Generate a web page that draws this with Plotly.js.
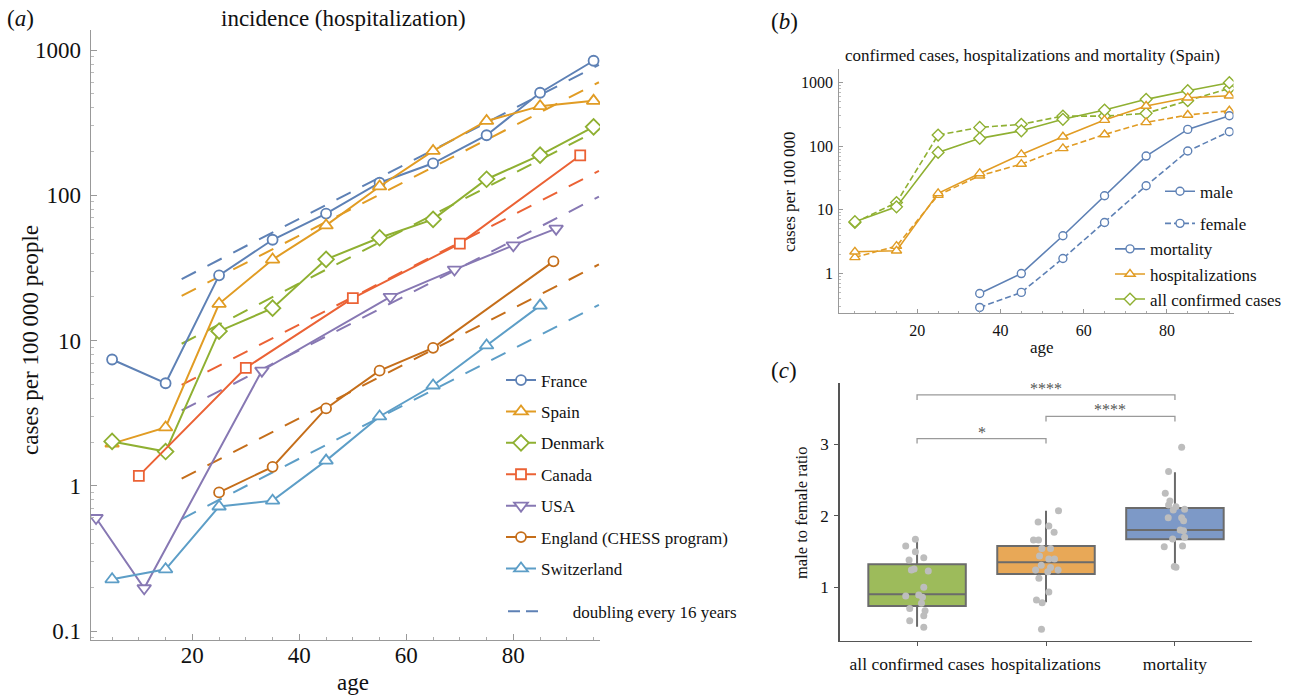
<!DOCTYPE html>
<html>
<head>
<meta charset="utf-8">
<script src="https://cdn.plot.ly/plotly-3.0.1.min.js"></script>
<style>
html,body{margin:0;padding:0;background:#fff;}
#chart{width:1296px;height:695px;}
</style>
</head>
<body>
<div id="chart"></div>
<script>
// ---------------- Panel (a): incidence (hospitalization) ----------------
const franceAge = [5, 15, 25, 35, 45, 55, 65, 75, 85, 95];
const franceVal = [7.4, 5.08, 28.1, 49.4, 74.8, 122, 166, 259, 508, 844];
const spainAge = [5, 15, 25, 35, 45, 55, 65, 75, 85, 95];
const spainVal = [1.95, 2.52, 17.9, 36.1, 62, 115, 202, 325, 411, 447];
const denmarkAge = [5, 15, 25, 35, 45, 55, 65, 75, 85, 95];
const denmarkVal = [2.02, 1.72, 11.6, 16.7, 36.2, 51, 68.3, 129, 189, 296];
const canadaAge = [10, 30, 50, 70, 92.5];
const canadaVal = [1.17, 6.49, 19.6, 46.5, 188];
const usaAge = [2, 11, 33, 57, 69, 80, 88];
const usaVal = [0.6, 0.197, 6.2, 20.0, 30.8, 45.2, 58.9];
const englandAge = [25, 35, 45, 55, 65, 87.5];
const englandVal = [0.90, 1.35, 3.41, 6.2, 8.91, 35.1];
const switzerlandAge = [5, 15, 25, 35, 45, 55, 65, 75, 85];
const switzerlandVal = [0.227, 0.266, 0.72, 0.79, 1.49, 3.0, 4.9, 9.25, 17.4];

// "doubling every 16 years" reference lines (start/end)
const fitAge = [18, 96];
const franceFit = [26.5, 790];
const spainFit = [20.3, 600];
const denmarkFit = [9.5, 283];
const canadaFit = [4.95, 147];
const usaFit = [3.3, 98];
const englandFit = [1.12, 33.4];
const switzerlandFit = [0.59, 17.6];

// ---------------- Panel (b): Spain by sex ----------------
const spainAgeB = [5, 15, 25, 35, 45, 55, 65, 75, 85, 95];
const casesMale = [6.5, 11.1, 80, 133, 175, 265, 371, 547, 748, 1000];
const casesFemale = [6.3, 13.0, 150, 198, 221, 298, 298, 329, 521, 815];
const hospMale = [2.18, 2.26, 18.1, 37.3, 74.3, 141, 258, 430, 581, 624];
const hospFemale = [1.78, 2.68, 17.0, 34.3, 52.4, 92.5, 153, 237, 310, 362];
const mortAge = [35, 45, 55, 65, 75, 85, 95];
const mortMale = [0.48, 0.99, 3.9, 16.6, 70, 184, 302];
const mortFemale = [0.29, 0.50, 1.71, 6.3, 23.9, 84, 169];

// ---------------- Panel (c): male to female ratio ----------------
const ratioGroups = ['all confirmed cases', 'hospitalizations', 'mortality'];
const boxQ1 = [0.739, 1.186, 1.671];
const boxMedian = [0.902, 1.349, 1.801];
const boxQ3 = [1.321, 1.578, 2.109];
const boxLow = [0.449, 0.790, 1.289];
const boxHigh = [1.676, 2.072, 2.608];
const casesRatio = [1.671, 1.578, 1.498, 1.414, 1.382, 1.242, 1.256, 1.228, 1.000, 0.878, 0.892, 0.860, 0.776, 0.702, 0.673, 0.603, 0.533, 0.440];
const casesJitter = [-0.013, -0.088, -0.013, 0.052, -0.062, -0.044, -0.023, 0.087, 0.052, -0.088, 0.013, 0.042, 0.034, -0.057, 0.062, 0.052, -0.057, 0.052];
const hospRatio = [2.072, 1.913, 1.857, 1.769, 1.662, 1.662, 1.541, 1.541, 1.438, 1.396, 1.396, 1.307, 1.242, 1.275, 1.219, 1.242, 1.125, 0.934, 0.822, 0.785, 0.412];
const hospJitter = [0.097, -0.061, 0.022, 0.063, -0.097, -0.058, -0.032, 0.035, -0.050, 0.022, 0.066, -0.037, -0.081, 0.035, 0.014, 0.094, -0.055, 0.022, -0.074, -0.030, -0.035];
const mortRatio = [2.958, 2.618, 2.314, 2.207, 2.151, 2.081, 2.128, 2.090, 1.973, 1.973, 1.931, 1.801, 1.792, 1.699, 1.676, 1.568, 1.578, 1.289, 1.280];
const mortJitter = [0.052, -0.049, -0.075, -0.039, -0.049, -0.013, 0.008, 0.075, -0.052, 0.052, 0.067, 0.041, 0.067, 0.075, -0.018, -0.083, 0.059, -0.005, 0.008];
const sigPairs = [[0, 2], [1, 2], [0, 1]];
const sigLevel = [3.69, 3.39, 3.08];
const sigLabel = ['****', '****', '*'];

// ---------------- styling ----------------
const W = 1296, H = 695;
const SERIF = 'Liberation Serif';
const COL = {
  blue: '#5E81B5', orange: '#E19C24', green: '#8FB032', red: '#EB6235',
  purple: '#8778B3', brown: '#C56E1A', lightblue: '#5D9EC7'
};
const px = v => v / W;
const py = v => 1 - v / H;

const countries = [
  {name: 'France', age: franceAge, val: franceVal, fit: franceFit, color: COL.blue, symbol: 'circle', size: 10},
  {name: 'Spain', age: spainAge, val: spainVal, fit: spainFit, color: COL.orange, symbol: 'triangle-up', size: 12},
  {name: 'Denmark', age: denmarkAge, val: denmarkVal, fit: denmarkFit, color: COL.green, symbol: 'diamond', size: 12},
  {name: 'Canada', age: canadaAge, val: canadaVal, fit: canadaFit, color: COL.red, symbol: 'square', size: 10},
  {name: 'USA', age: usaAge, val: usaVal, fit: usaFit, color: COL.purple, symbol: 'triangle-down', size: 12},
  {name: 'England (CHESS program)', age: englandAge, val: englandVal, fit: englandFit, color: COL.brown, symbol: 'circle', size: 10},
  {name: 'Switzerland', age: switzerlandAge, val: switzerlandVal, fit: switzerlandFit, color: COL.lightblue, symbol: 'triangle-up', size: 12}
];

const traces = [];
// dashed reference lines first (drawn underneath)
countries.forEach((c) => {
  traces.push({
    type: 'scatter', mode: 'lines', x: fitAge, y: c.fit,
    xaxis: 'x', yaxis: 'y',
    line: {color: c.color, width: 2, dash: '16px,13px'},
    name: c.name + ' doubling', showlegend: false, hoverinfo: 'skip'
  });
});
// legend key for the reference lines
traces.push({
  type: 'scatter', mode: 'lines', x: [null], y: [null], xaxis: 'x', yaxis: 'y',
  line: {color: COL.blue, width: 2, dash: '12px,6px'},
  name: '\u00a0\u00a0\u00a0\u00a0\u00a0\u00a0\u00a0doubling every 16 years', showlegend: true, legend: 'legend2'
});
countries.forEach((c, i) => {
  traces.push({
    type: 'scatter', mode: 'lines+markers', x: c.age, y: c.val,
    xaxis: 'x', yaxis: 'y',
    name: c.name, legend: 'legend', legendgroup: 'g' + i, legendrank: i + 1,
    line: {color: c.color, width: 2},
    marker: {symbol: c.symbol, size: c.size, color: '#ffffff', line: {color: c.color, width: 1.8}}
  });
});

// Panel (b)
function bTrace(x, y, color, symbol, dashed, name, legendName, rank, show) {
  return {
    type: 'scatter', mode: 'lines+markers', x: x, y: y, xaxis: 'x2', yaxis: 'y2',
    name: name, legend: legendName, legendrank: rank, showlegend: show, legendgroup: name,
    line: {color: color, width: 1.6, dash: dashed ? '6px,3px' : 'solid'},
    marker: {symbol: symbol, size: symbol === 'circle' ? 8 : 9, color: '#ffffff', line: {color: color, width: 1.4}}
  };
}
traces.push(bTrace(spainAgeB, casesFemale, COL.green, 'diamond', true, 'cases female', 'legend4', 10, false));
traces.push(bTrace(spainAgeB, hospFemale, COL.orange, 'triangle-up', true, 'hosp female', 'legend4', 11, false));
traces.push(bTrace(mortAge, mortFemale, COL.blue, 'circle', true, 'female', 'legend3', 2, true));
traces.push(bTrace(spainAgeB, casesMale, COL.green, 'diamond', false, 'all confirmed cases', 'legend4', 3, true));
traces.push(bTrace(spainAgeB, hospMale, COL.orange, 'triangle-up', false, 'hospitalizations', 'legend4', 2, true));
traces.push(bTrace(mortAge, mortMale, COL.blue, 'circle', false, 'mortality', 'legend4', 1, true));
// legend-only key for "male" (solid line style)
traces.push(bTrace([null], [null], COL.blue, 'circle', false, 'male', 'legend3', 1, true));

// Panel (c)
const boxFill = ['#9DBB5B', '#E8A857', '#7D99C7'];
ratioGroups.forEach((g, i) => {
  traces.push({
    type: 'box', x: [i], q1: [boxQ1[i]], median: [boxMedian[i]], q3: [boxQ3[i]],
    lowerfence: [boxLow[i]], upperfence: [boxHigh[i]],
    xaxis: 'x3', yaxis: 'y3', name: g, showlegend: false,
    fillcolor: boxFill[i], line: {color: '#6b6b6b', width: 2},
    whiskerwidth: 0, width: 0.756, boxpoints: false, hoverinfo: 'skip'
  });
});
[[casesRatio, casesJitter], [hospRatio, hospJitter], [mortRatio, mortJitter]].forEach((pair, i) => {
  traces.push({
    type: 'scatter', mode: 'markers', xaxis: 'x3', yaxis: 'y3', showlegend: false,
    x: pair[1].map(j => i + j), y: pair[0],
    marker: {color: '#BDBDBD', size: 7}
  });
});

const shapes = sigPairs.map((p, k) => ({
  type: 'path', xref: 'x3', yref: 'y3',
  path: `M ${p[0]},${sigLevel[k] - 0.07} L ${p[0]},${sigLevel[k]} L ${p[1]},${sigLevel[k]} L ${p[1]},${sigLevel[k] - 0.07}`,
  line: {color: '#9a9a9a', width: 1.3}
}));

const ann = (text, x, y, size, extra) => Object.assign({
  text: text, x: px(x), y: py(y), xref: 'paper', yref: 'paper',
  xanchor: 'center', yanchor: 'middle', showarrow: false,
  font: {family: SERIF, size: size, color: '#111'}
}, extra || {});

const annotations = [
  ann('(<i>a</i>)', 20, 18, 23),
  ann('incidence (hospitalization)', 343, 18, 23),
  ann('age', 353, 682, 23),
  ann('cases per 100\u2009000 people', 30, 340, 23, {textangle: -90}),
  ann('(<i>b</i>)', 784, 22, 23),
  ann('confirmed cases, hospitalizations and mortality (Spain)', 1032, 56, 17),
  ann('age', 1042, 347, 17),
  ann('cases per 100\u2009000', 789, 192, 17, {textangle: -90}),
  ann('(<i>c</i>)', 784, 370, 23),
  ann('male to female ratio', 801, 513, 16.5, {textangle: -90})
];
sigPairs.forEach((p, k) => {
  annotations.push({
    text: sigLabel[k], x: (p[0] + p[1]) / 2, y: sigLevel[k], xref: 'x3', yref: 'y3',
    xanchor: 'center', yanchor: 'bottom', yshift: -4, showarrow: false,
    font: {family: SERIF, size: 16, color: '#555555'}
  });
});

const frameAxis = (extra) => Object.assign({
  showline: true, linecolor: '#999', linewidth: 1, mirror: false,
  showgrid: false, zeroline: false,
  ticks: 'inside', tickcolor: '#999', ticklen: 6, tickwidth: 1
}, extra);

const layout = {
  width: W, height: H,
  margin: {l: 0, r: 0, t: 0, b: 0},
  paper_bgcolor: '#ffffff', plot_bgcolor: 'rgba(0,0,0,0)',
  font: {family: SERIF, color: '#111'},
  xaxis: frameAxis({
    domain: [px(90.7), px(600)], anchor: 'y', range: [1, 96.2],
    tickmode: 'linear', tick0: 0, dtick: 20,
    tickfont: {family: SERIF, size: 23, color: '#111'}, ticklabelstandoff: -6,
    minor: {tickmode: 'linear', tick0: 0, dtick: 5, ticks: 'inside', ticklen: 3, tickcolor: '#aaa'}
  }),
  yaxis: frameAxis({
    type: 'log', domain: [py(640), py(30)], anchor: 'x', range: [-1.062, 3.138],
    tickmode: 'linear', tick0: 0, dtick: 1,
    tickfont: {family: SERIF, size: 23, color: '#111'}, ticklabelstandoff: 4,
    minor: {dtick: 'D1', ticks: 'inside', ticklen: 3, tickcolor: '#bbb'}
  }),
  xaxis2: frameAxis({
    domain: [px(839.3), px(1233.5)], anchor: 'y2', range: [1.25, 96],
    tickmode: 'linear', tick0: 0, dtick: 20, ticklen: 4,
    tickfont: {family: SERIF, size: 16, color: '#111'}, ticklabelstandoff: 2,
    minor: {tickmode: 'linear', tick0: 0, dtick: 5, ticks: 'inside', ticklen: 2, tickcolor: '#aaa'}
  }),
  yaxis2: frameAxis({
    type: 'log', domain: [py(313.3), py(69.3)], anchor: 'x2', range: [-0.630, 3.211],
    tickmode: 'linear', tick0: 0, dtick: 1, ticklen: 4,
    tickfont: {family: SERIF, size: 16, color: '#111'}, ticklabelstandoff: 2,
    minor: {dtick: 'D1', ticks: 'inside', ticklen: 2, tickcolor: '#bbb'}
  }),
  xaxis3: {
    domain: [px(839.7), px(1252.3)], anchor: 'y3', range: [-0.6, 2.6],
    tickmode: 'array', tickvals: [0, 1, 2], ticktext: ratioGroups,
    showline: true, linecolor: '#555', linewidth: 1.5, showgrid: false, zeroline: false,
    ticks: 'outside', ticklen: 4, tickcolor: '#555', ticklabelstandoff: 3,
    tickfont: {family: SERIF, size: 17.5, color: '#111'}
  },
  yaxis3: {
    domain: [py(640.7), py(383)], anchor: 'x3', range: [0.253, 3.857],
    tickmode: 'array', tickvals: [1, 2, 3],
    showline: true, linecolor: '#555', linewidth: 1.5, showgrid: false, zeroline: false,
    ticks: 'outside', ticklen: 4, tickcolor: '#555', ticklabelstandoff: 2,
    tickfont: {family: SERIF, size: 17, color: '#111'}
  },
  legend: {
    x: px(501), y: py(362.5), xanchor: 'left', yanchor: 'top',
    bgcolor: 'rgba(0,0,0,0)', borderwidth: 0, tracegroupgap: 6.3, traceorder: 'grouped',
    font: {family: SERIF, size: 17, color: '#111'}
  },
  legend2: {
    x: px(503), y: py(593.7), xanchor: 'left', yanchor: 'top',
    bgcolor: 'rgba(0,0,0,0)', borderwidth: 0,
    font: {family: SERIF, size: 17, color: '#111'}
  },
  legend3: {
    x: px(1160), y: py(173.7), xanchor: 'left', yanchor: 'top',
    bgcolor: 'rgba(0,0,0,0)', borderwidth: 0, tracegroupgap: 7, traceorder: 'grouped',
    font: {family: SERIF, size: 17, color: '#111'}
  },
  legend4: {
    x: px(1110), y: py(231.3), xanchor: 'left', yanchor: 'top',
    bgcolor: 'rgba(0,0,0,0)', borderwidth: 0, tracegroupgap: 0,
    font: {family: SERIF, size: 17, color: '#111'}
  },
  shapes: shapes,
  annotations: annotations,
  showlegend: true
};

Plotly.newPlot('chart', traces, layout, {staticPlot: true, displayModeBar: false});
</script>
</body>
</html>
